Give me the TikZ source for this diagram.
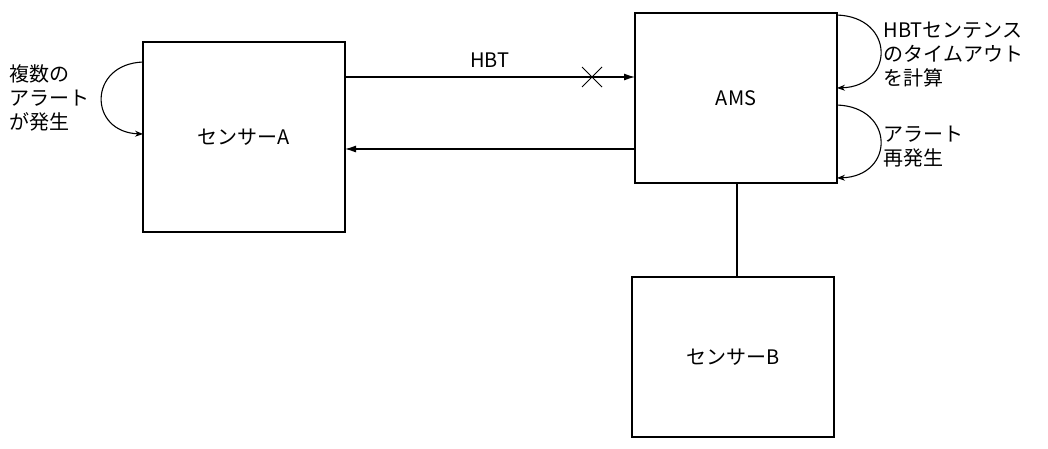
\documentclass[tikz,border=0pt]{standalone}
\usepackage{fontspec}
\setmainfont{Noto Sans CJK JP}
\usetikzlibrary{arrows.meta}
\begin{document}
\begin{tikzpicture}[x=1pt,y=-1pt,
  box/.style={draw,line width=1.2pt,inner sep=0},
  txt/.style={font=\fontsize{20}{24}\selectfont},
  lbl/.style={txt,align=left,anchor=west},
  arr/.style={line width=1.1pt,-{Latex[length=11pt,width=7pt]}},
  loop/.style={line width=1.1pt,-{Stealth[length=8pt,width=6pt]}}]
\useasboundingbox (0,0) rectangle (1048,448);
\draw[box] (143,42) rectangle (345,232);
\node[txt] (a) at (244,137) {センサーA};
\draw[box] (635,13) rectangle (837,183);
\node[txt] (ams) at (736,98) {AMS};
\draw[box] (632,277) rectangle (834,437);
\node[txt] (b) at (733,357) {センサーB};
\coordinate (h1) at (345,77); \coordinate (h2) at (635,77);
\draw[arr] (h1) -- (h2) node[midway,above=6pt,txt] {HBT};
\node (x) at (592,77) {};
\draw[line width=1pt] (582,67) -- (602,87) (582,87) -- (602,67);
\coordinate (r1) at (635,149); \coordinate (r2) at (345,149);
\draw[arr] (r1) -- (r2);
\coordinate (v1) at (737,183); \coordinate (v2) at (737,277);
\draw[line width=1.2pt] (v1) -- (v2);
\coordinate (l1) at (143,62); \coordinate (l2) at (143,134);
\draw[loop] (l1) .. controls (88,64) and (88,132) .. (l2);
\node[lbl] (lt) at (6,98) {複数の\\アラート\\が発生};
\coordinate (q1) at (837,15); \coordinate (q2) at (837,88);
\draw[loop] (q1) .. controls (895,17) and (895,86) .. (q2);
\coordinate (p1) at (837,105); \coordinate (p2) at (837,178);
\draw[loop] (p1) .. controls (895,107) and (895,176) .. (p2);
\node[lbl] (t1) at (880,55) {HBTセンテンス\\のタイムアウト\\を計算};
\node[lbl] (t2) at (880,147) {アラート\\再発生};
\end{tikzpicture}
\end{document}
